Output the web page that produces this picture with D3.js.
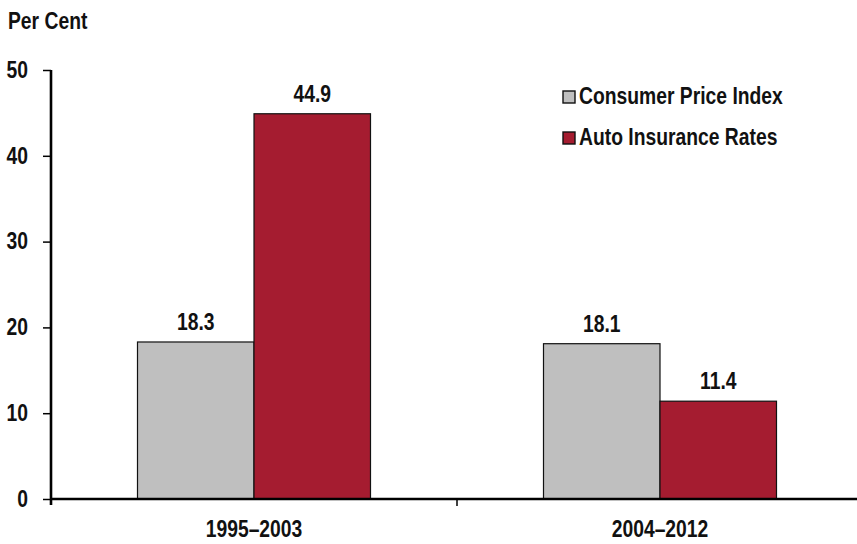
<!DOCTYPE html>
<html><head><meta charset="utf-8">
<script src="https://cdn.jsdelivr.net/npm/d3@7"></script>
<style>
body{margin:0;background:#fff;}
text{font-family:"Liberation Sans",Arial,sans-serif;fill:#111;}
</style></head><body>
<svg id="c" width="857" height="544"></svg>
<script>
const categories = ["1995\u20132003", "2004\u20132012"];
const seriesNames = ["Consumer Price Index", "Auto Insurance Rates"];
const cpiValues = [18.3, 18.1];
const autoValues = [44.9, 11.4];
const yTicks = [0, 10, 20, 30, 40, 50];
const colors = ["#bfbfbf", "#a51c30"];

const SX = 0.84, FS = "23px";
function squeeze(sel) {
  sel.each(function () {
    const t = d3.select(this);
    const x = +t.attr("x") || 0, y = +t.attr("y") || 0;
    t.attr("x", 0).attr("y", 0)
     .attr("transform", `translate(${x},${y}) scale(${SX},1)`)
     .style("font-size", FS).style("font-weight", "bold")
     .style("font-family", '"Liberation Sans",Arial,sans-serif')
     .attr("fill", "#151515");
  });
}

const svg = d3.select("#c");
const x0 = 51, x1 = 863, yTop = 70, yBot = 499;
const x = d3.scaleBand().domain(categories).range([x0, x1]);
const xs = d3.scaleBand().domain(seriesNames).range([0, 233]);
const y = d3.scaleLinear().domain([0, 50]).range([yBot, yTop]);

const data = categories.map((c, i) => ({cat: c, vals: [cpiValues[i], autoValues[i]]}));

const g = svg.selectAll("g.grp").data(data).join("g").attr("class", "grp")
  .attr("transform", d => `translate(${x(d.cat) + x.bandwidth()/2 - 116.5},0)`);
g.selectAll("rect").data(d => d.vals.map((v, k) => ({v, k}))).join("rect")
  .attr("x", d => xs(seriesNames[d.k]))
  .attr("y", d => y(d.v))
  .attr("width", xs.bandwidth())
  .attr("height", d => yBot - y(d.v))
  .attr("fill", d => colors[d.k])
  .attr("stroke", "#111").attr("stroke-width", 1.2);
g.selectAll("text.val").data(d => d.vals.map((v, k) => ({v, k}))).join("text")
  .attr("class", "val")
  .attr("x", d => xs(seriesNames[d.k]) + xs.bandwidth()/2)
  .attr("y", d => y(d.v) - 12)
  .attr("text-anchor", "middle")
  .text(d => d.v.toFixed(1))
  .call(squeeze);

// y axis
const ya = svg.append("g").attr("transform", `translate(${x0},0)`)
  .call(d3.axisLeft(y).tickValues(yTicks).tickSize(8).tickPadding(15).tickFormat(d3.format("d")));
ya.select(".domain").attr("stroke", "#000").attr("stroke-width", 2.6).attr("d", `M0,${yTop}V${yBot + 6}`);
ya.selectAll(".tick line").attr("stroke", "#000").attr("stroke-width", 1.5);
ya.selectAll(".tick text").call(squeeze);

// x axis
const xa = svg.append("g").attr("transform", `translate(0,${yBot})`)
  .call(d3.axisBottom(x).tickSize(0).tickPadding(22));
xa.select(".domain").attr("stroke", "#000").attr("stroke-width", 2.6).attr("d", `M${x0},0H${x1}`);
xa.selectAll(".tick text").call(squeeze);
xa.selectAll("line.sep").data(categories.slice(1)).join("line").attr("class", "sep")
  .attr("x1", d => x(d)).attr("x2", d => x(d)).attr("y1", 0).attr("y2", 7)
  .attr("stroke", "#000").attr("stroke-width", 1.5);

// title
svg.append("text").attr("x", 8).attr("y", 29).text("Per Cent").call(squeeze);

// legend
const lg = svg.selectAll("g.leg").data(seriesNames).join("g").attr("class", "leg")
  .attr("transform", (d, i) => `translate(563,${91 + i * 41})`);
lg.append("rect").attr("width", 12).attr("height", 12).attr("fill", (d, i) => colors[i]).attr("stroke", "#111").attr("stroke-width", 1.4);
lg.append("text").attr("x", 16).attr("y", 12.5).text(d => d).call(squeeze);
</script></body></html>
